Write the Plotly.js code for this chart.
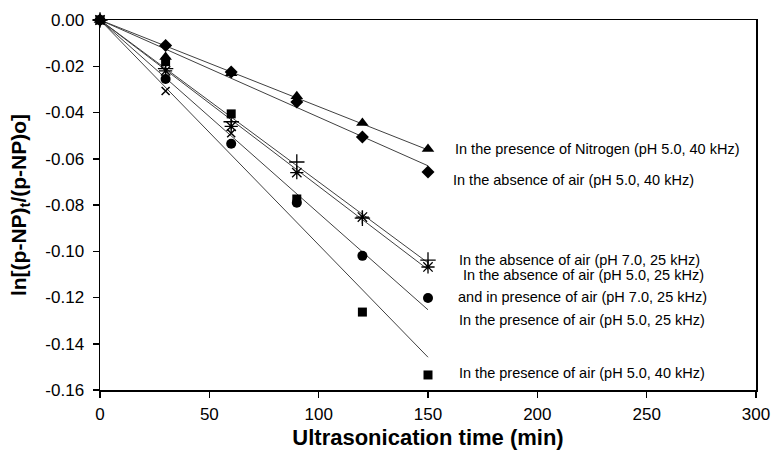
<!DOCTYPE html>
<html>
<head>
<meta charset="utf-8">
<script src="https://cdn.plot.ly/plotly-3.0.1.min.js"></script>
<style>html,body{margin:0;padding:0;background:#fff;}#chart{width:773px;height:451px;}</style>
</head>
<body>
<div id="chart"></div>
<script>
// Ultrasonication time (min)
const time = [0, 30, 60, 90, 120, 150];
const timeShort = [0, 30, 60];

// ln[(p-NP)t/(p-NP)o] values per condition
const nitrogenPH5_40 = [0, -0.016, -0.023, -0.033, -0.0445, -0.0558];   // triangle
const absencePH5_40 = [0, -0.011, -0.0225, -0.0355, -0.0506, -0.0657];  // diamond
const absencePH7_25 = [0, -0.021, -0.044, -0.0614, -0.0857, -0.1038];   // plus
const absencePH5_25 = [0, -0.022, -0.046, -0.066, -0.0852, -0.1068];    // asterisk
const presencePH7_25 = [0, -0.0255, -0.0535, -0.079, -0.102, -0.1202];  // circle
const presencePH5_25 = [0, -0.0307, -0.049];                            // x
const presencePH5_40 = [0, -0.018, -0.0406, -0.0774, -0.1263, -0.1535]; // square

const labels = [
  "In the presence of Nitrogen (pH 5.0, 40 kHz)",
  "In the absence of air (pH 5.0, 40 kHz)",
  "In the absence of air (pH 7.0, 25 kHz)",
  "In the absence of air (pH 5.0, 25 kHz)",
  "and in presence of air (pH 7.0, 25 kHz)",
  "In the presence of air (pH 5.0, 25 kHz)",
  "In the presence of air (pH 5.0, 40 kHz)"
];

const yTickVals = [0, -0.02, -0.04, -0.06, -0.08, -0.10, -0.12, -0.14, -0.16];
const yTickText = ["0.00", "-0.02", "-0.04", "-0.06", "-0.08", "-0.10", "-0.12", "-0.14", "-0.16"];
const xTickVals = [0, 50, 100, 150, 200, 250, 300];

// least-squares fit through origin
function fitLine(xs, ys) {
  let sxy = 0, sxx = 0;
  for (let i = 0; i < xs.length; i++) { sxy += xs[i] * ys[i]; sxx += xs[i] * xs[i]; }
  const k = sxy / sxx;
  const x0 = xs[0], x1 = xs[xs.length - 1];
  return {x: [x0, x1], y: [k * x0, k * x1]};
}

const fitted = [nitrogenPH5_40, absencePH5_40, absencePH7_25, absencePH5_25, presencePH7_25, presencePH5_40];
const traces = [];
fitted.forEach(ys => {
  const f = fitLine(time, ys);
  traces.push({x: f.x, y: f.y, mode: 'lines', type: 'scatter', line: {color: '#404040', width: 1}, hoverinfo: 'skip', cliponaxis: false});
});

function pts(xs, ys, symbol, size, lw) {
  return {x: xs, y: ys, mode: 'markers', type: 'scatter', cliponaxis: false,
    marker: {symbol: symbol, size: size, color: '#000', line: {color: '#000', width: lw || 0}}};
}
traces.push(pts(time, nitrogenPH5_40, 'triangle-up', 11));
traces.push(pts(time, absencePH5_40, 'diamond', 10));
traces.push(pts(time, absencePH7_25, 'cross-thin-open', 11, 1.3));
traces.push(pts(time, absencePH5_25, 'asterisk-open', 11, 1.3));
traces.push(pts(time, presencePH7_25, 'circle', 10));
traces.push(pts(timeShort, presencePH5_25, 'x-thin-open', 8, 1.5));
traces.push(pts(time, presencePH5_40, 'square', 9));

const labelPos = [
  [161.4, -0.0558], [160.5, -0.0692], [163.3, -0.1038], [165.1, -0.1103],
  [162.8, -0.1198], [163.3, -0.1297], [163.3, -0.1526]
];
const annotations = labels.map((t, i) => ({
  x: labelPos[i][0], y: labelPos[i][1], xref: 'x', yref: 'y', text: t,
  showarrow: false, xanchor: 'left', yanchor: 'middle',
  font: {family: 'Liberation Sans, Arial, sans-serif', size: 14.5, color: '#000'}
}));

const layout = {
  width: 773, height: 451,
  margin: {l: 100, r: 17, t: 20, b: 61},
  paper_bgcolor: '#fff', plot_bgcolor: '#fff',
  showlegend: false,
  font: {family: 'Liberation Sans, Arial, sans-serif', color: '#000'},
  xaxis: {
    range: [0, 300], tickvals: xTickVals, ticks: 'outside', ticklen: 6, tickwidth: 1.5, tickcolor: '#000',
    showgrid: false, zeroline: false, showline: true, linecolor: '#000', linewidth: 1.5, mirror: true,
    tickfont: {size: 17}, ticklabelstandoff: 2,
    title: {text: 'Ultrasonication time (min)', font: {size: 22, weight: 'bold'}, standoff: 6}
  },
  yaxis: {
    range: [-0.16, 0], tickvals: yTickVals, ticktext: yTickText, ticks: 'outside', ticklen: 6, tickwidth: 1.5, tickcolor: '#000',
    showgrid: false, zeroline: false, showline: true, linecolor: '#000', linewidth: 1.5, mirror: true,
    tickfont: {size: 17}, ticklabelstandoff: 5,
    title: {text: 'ln[(p-NP)<sub>t</sub>/(p-NP)o]', font: {size: 21, weight: 'bold'}, standoff: 13}
  },
  annotations: annotations
};

Plotly.newPlot('chart', traces, layout, {displayModeBar: false, staticPlot: true});
</script>
</body>
</html>
